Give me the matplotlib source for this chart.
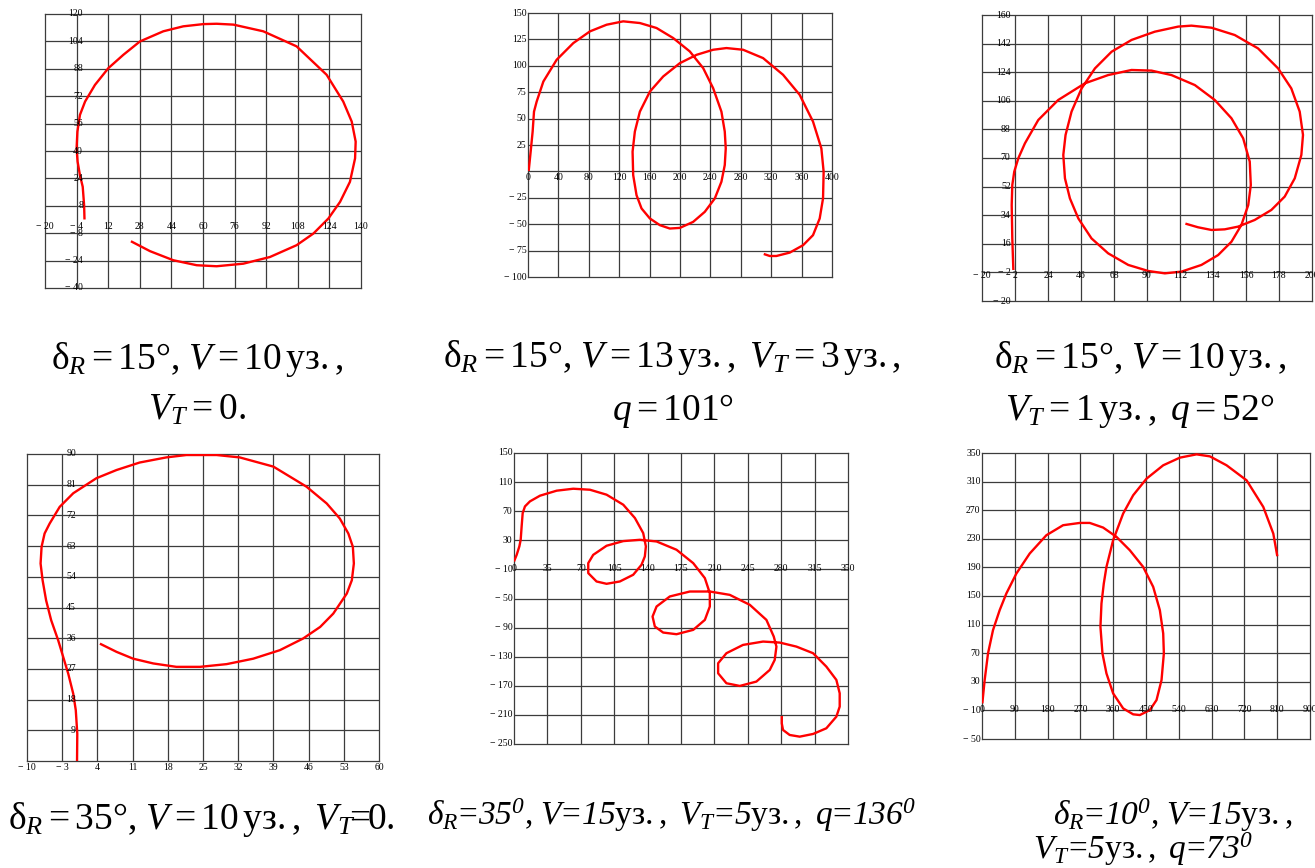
import numpy as np
import matplotlib
matplotlib.use("Agg")
import matplotlib.pyplot as plt

plt.rcParams['font.family'] = ['Liberation Serif', 'DejaVu Serif']
plt.rcParams['mathtext.fontset'] = 'custom'
plt.rcParams['mathtext.rm'] = 'Liberation Serif'
plt.rcParams['mathtext.it'] = 'Liberation Serif:italic'
plt.rcParams['mathtext.sf'] = 'Liberation Serif:italic'
plt.rcParams['mathtext.bf'] = 'Liberation Serif:bold'

# ---------------- data ----------------
# Panel 1: dR=15, V=10, VT=0
p1_x = [0, -0.2, -0.9, -2.3, -3.5, -4, -3.6, -2.3, 0.3, 5.3, 12.1, 19.7, 28.1, 39.9, 50, 60.2, 66.9,
        75.4, 90.5, 107.4, 122.6, 131, 135.3, 137.3, 137, 134.4, 129.4, 123.5, 115.9, 107.4, 93.9,
        80.4, 66.9, 56.8, 45, 33.2, 23.5]
p1_y = [0, 8.4, 19.1, 25.9, 33.8, 41.6, 51.3, 61.1, 68.9, 78.6, 88.4, 96.2, 104, 109.9, 112.8, 114.1,
        114.3, 113.8, 109.9, 101.1, 84.5, 68.9, 57.2, 45.5, 35.7, 22, 10.3, 0.6, -8.2, -15, -21.9,
        -25.8, -27.3, -26.7, -23.8, -18.5, -12.7]

# Panel 2: dR=15, V=13, VT=3, q=101
p2_x = [0.9, 3.5, 6.1, 7.9, 11.4, 20.2, 37.7, 59.6, 81.5, 103.4, 125.3, 147.2, 169.1, 191, 212.9,
        230.5, 243.6, 254.5, 258.9, 260.2, 258.9, 254.5, 245.8, 232.6, 217.3, 199.8, 186.6, 173.5,
        160.4, 149.4, 142.8, 138.4, 137.6, 140.6, 147.2, 160.4, 177.9, 199.8, 221.8, 243.6, 261.1,
        283, 309.3, 335.6, 357.5, 375, 386, 389, 388.2, 383.8, 375, 361.9, 344.4, 326.8, 318.1, 310.2]
p2_y = [0.3, 18.7, 37.7, 56.6, 66.1, 85.1, 105.7, 121.5, 132.6, 138.9, 142.1, 140.5, 135.8, 126.3,
        113.6, 97.8, 78.8, 56.6, 37.7, 21.8, 6, -9.8, -25.6, -38.3, -47.8, -53.5, -54.1, -50.9, -44.6,
        -35.1, -22.5, -3.5, 18.7, 37.7, 56.6, 75.6, 89.9, 102.5, 110.4, 115.2, 116.8, 115.2, 107.3,
        91.5, 72.5, 47.2, 21.8, -0.3, -25.6, -44.6, -60.4, -69.9, -76.9, -80.1, -80.1, -78.2]

# Panel 3: dR=15, V=10, VT=1, q=52
p3_x = [0.9, 0.2, -0.2, 0.2, 1.5, 4.2, 8.6, 17.5, 30.8, 48.6, 64.1, 79.7, 93, 106.3, 121.9, 135.2,
        146.3, 154.1, 158.5, 159.2, 157.5, 152.9, 146.3, 137.4, 126.3, 113, 101.9, 90.8, 77.5, 64.1,
        53, 44.2, 38.6, 35.3, 34.2, 35.7, 39.7, 46.4, 55.3, 66.4, 79.7, 95.2, 110.8, 119.6, 133,
        148.5, 164, 177.4, 186.2, 191.8, 194, 192.9, 188.5, 181.8, 172.9, 161.8, 150.7, 141.8, 133,
        124, 115.6]
p3_y = [-0.5, 19.4, 40.4, 53, 61.4, 69.8, 79.2, 93.9, 106.5, 117, 122.2, 125.4, 125, 122.2, 115.9,
        106.5, 95, 82.4, 67.7, 53, 40.4, 27.8, 17.3, 8.9, 2.7, -1.5, -2.6, -1.1, 2.7, 10, 19.4, 32,
        44.6, 57.2, 71.9, 84.5, 99.2, 113.8, 126.4, 136.9, 144.3, 149.5, 152.7, 153.3, 152, 147.4,
        139, 126.4, 113.8, 99.2, 84.5, 71.9, 57.2, 45.7, 37.3, 31, 26.8, 25.1, 24.7, 26.4, 28.7]

# Panel 4: dR=35, V=10, VT=0
p4_x = [-0.05, 0, -0.3, -0.8, -1.8, -2.8, -3.8, -5.2, -6.2, -6.9, -7.3, -7.1, -6.5, -5.5, -3.5, -0.8,
        3.8, 7.8, 12.4, 17.7, 21.7, 27.7, 32.3, 39, 45.6, 49.6, 52.2, 53.9, 54.8, 55, 54.6, 53.6,
        50.9, 48.3, 44.9, 40.3, 35, 29.7, 24.4, 19.7, 15.1, 11.1, 7.8, 4.5]
p4_y = [0, 8, 14.9, 19.7, 25.6, 30.5, 35.4, 41.3, 47.1, 53, 57.9, 62.8, 66.7, 69.6, 74.5, 78.5, 82.9,
        85.3, 87.5, 89, 89.7, 89.7, 89, 86.3, 80.4, 75.5, 71.1, 66.7, 62.8, 57.9, 53, 49.1, 43.2,
        39.3, 35.9, 32.5, 30, 28.4, 27.6, 27.6, 28.6, 30, 32, 34.4]

# Panel 5: dR=35, V=15, VT=5, q=136
p5_x = [0, 2.8, 5.6, 7, 8, 9.1, 11.5, 16.7, 27.2, 44.7, 62.1, 79.6, 97, 114.5, 126.7, 135.4, 138.2,
        137.1, 133.6, 124.9, 110.9, 97, 86.5, 77.8, 77.8, 83, 97, 114.5, 131.9, 149.4, 170.3, 187.8,
        200, 205.2, 205.2, 200, 187.8, 170.3, 156.3, 147.6, 145.2, 149.4, 163.3, 184.3, 205.2, 226.1,
        247.1, 264.5, 272.2, 275, 273.2, 268, 254, 236.6, 222.6, 213.9, 213.9, 222.6, 240, 261,
        278.5, 295.9, 313.4, 327.3, 337.8, 341.3, 341.3, 337.8, 327.3, 313.4, 299.4, 288.9, 281.9,
        280.6, 280.6]
p5_y = [0.9, 10, 21.6, 30.7, 49, 67.4, 76.6, 83.5, 91.3, 98.2, 100.9, 99.5, 92.7, 78.9, 60.6, 39.9,
        21.6, 7.8, -3.7, -17.4, -26.6, -29.8, -26.6, -15.1, -1.4, 10, 22.5, 28.9, 30.7, 28.4, 17,
        -1.4, -22, -42.7, -61, -79.4, -93.1, -99.1, -96.8, -88.5, -74.8, -61, -47.2, -40.4, -40.4,
        -45, -58.7, -79.4, -102.3, -116.1, -134.4, -148.2, -164.2, -170.2, -166.5, -152.8, -139,
        -125.2, -113.8, -109.2, -110.6, -116.1, -125.2, -143.6, -161.9, -180.3, -198.6, -212.4,
        -228.4, -236.2, -239.9, -237.6, -230.7, -221.6, -211.5]

# Panel 6: dR=10, V=15, VT=5, q=73
p6_x = [0.9, 7.3, 16.5, 30.2, 48.5, 66.8, 94.3, 130.9, 176.7, 222.5, 268.3, 295.7, 332.4, 369,
        405.6, 442.2, 469.7, 488, 497.2, 499, 492.6, 478.9, 460.6, 433.1, 414.8, 387.3, 359.8,
        341.5, 330.5, 325, 327.8, 334.2, 341.5, 359.8, 387.3, 414.8, 451.4, 497.2, 542.9, 588.7,
        625.3, 671.1, 726, 771.8, 799.3, 810.3]
p6_y = [-0.2, 32.4, 69.7, 102.3, 130.2, 153.5, 181.4, 209.4, 235, 249, 252.2, 252.2, 245.7, 232.7,
        214, 190.7, 162.8, 130.2, 97.6, 69.7, 32.4, 4.5, -9.5, -16.5, -15.5, -7.2, 13.8, 41.7,
        69.7, 106.9, 139.5, 167.5, 190.7, 228, 265.3, 290.9, 314.1, 332.8, 343.5, 348.1, 345.3,
        332.8, 311.8, 274.6, 237.3, 205.6]

# tick values
p1_xt = [-20, -4, 12, 28, 44, 60, 76, 92, 108, 124, 140]
p1_yt = [-40, -24, -8, 8, 24, 40, 56, 72, 88, 104, 120]
p2_xt = [0, 40, 80, 120, 160, 200, 240, 280, 320, 360, 400]
p2_yt = [-100, -75, -50, -25, 0, 25, 50, 75, 100, 125, 150]
p3_xt = [-20, 2, 24, 46, 68, 90, 112, 134, 156, 178, 200]
p3_yt = [-20, -2, 16, 34, 52, 70, 88, 106, 124, 142, 160]
p4_xt = [-10, -3, 4, 11, 18, 25, 32, 39, 46, 53, 60]
p4_yt = [0, 9, 18, 27, 36, 45, 54, 63, 72, 81, 90]
p5_xt = [0, 35, 70, 105, 140, 175, 210, 245, 280, 315, 350]
p5_yt = [-250, -210, -170, -130, -90, -50, -10, 30, 70, 110, 150]
p6_xt = [0, 90, 180, 270, 360, 450, 540, 630, 720, 810, 900]
p6_yt = [-50, -10, 30, 70, 110, 150, 190, 230, 270, 310, 350]

# ---------------- figure ----------------
W, H = 1315, 868
fig = plt.figure(figsize=(W / 100, H / 100), dpi=100)


def rect(x0, y0, x1, y1):
    return [x0 / W, 1 - y1 / H, (x1 - x0) / W, (y1 - y0) / H]


def fmt(v):
    return ("\u2212 %d" % abs(v)) if v < 0 else "%d" % v


def panel(r, xs, ys, xt, yt):
    ax = fig.add_axes(r)
    ax.set_xlim(xt[0], xt[-1])
    ax.set_ylim(yt[0], yt[-1])
    ax.set_xticks([])
    ax.set_yticks([])
    for v in xt[1:-1]:
        ax.axvline(v, color='#3c3c3c', lw=0.9, zorder=1)
    for v in yt[1:-1]:
        ax.axhline(v, color='#3c3c3c', lw=0.9, zorder=1)
    for s in ax.spines.values():
        s.set_color('#3c3c3c')
        s.set_linewidth(0.9)
    ax.plot(xs, ys, color='#ff0000', lw=1.7, zorder=3, solid_capstyle='butt',
            solid_joinstyle='round')
    y_ax = max(0, yt[0])
    x_ax = max(0, xt[0])
    for v in xt:
        ax.annotate(fmt(v), xy=(v, y_ax), xytext=(0, -1.5), textcoords='offset points',
                    ha='center', va='top', fontsize=7, annotation_clip=False, zorder=4)
    for v in yt:
        if v == 0 and y_ax == 0:
            continue
        ax.annotate(fmt(v), xy=(x_ax, v), xytext=(-1, 0), textcoords='offset points',
                    ha='right', va='center', fontsize=7, annotation_clip=False, zorder=4)
    return ax


panel(rect(45, 14, 361, 288), p1_x, p1_y, p1_xt, p1_yt)
panel(rect(528, 13, 832, 277), p2_x, p2_y, p2_xt, p2_yt)
panel(rect(982, 15, 1312, 301), p3_x, p3_y, p3_xt, p3_yt)
panel(rect(27, 454, 379, 761), p4_x, p4_y, p4_xt, p4_yt)
panel(rect(514, 453, 848, 744), p5_x, p5_y, p5_xt, p5_yt)
panel(rect(982, 453, 1310, 739), p6_x, p6_y, p6_xt, p6_yt)


def cap(x, y, s, size, ha='center'):
    fig.text(x / W, 1 - y / H, s, fontsize=size, ha=ha, va='baseline')


U = r"\mathrm{уз.,}"
D = r"\mathrm{°}"
big = 27
cap(197, 369, r"$\mathrm{\delta}_{R}=15" + D + r"\mathrm{,}\ V=10\," + U + r"$", big)
cap(197, 420, r"$V_{T}=0.$", big)
cap(672, 367, r"$\mathrm{\delta}_{R}=15" + D + r"\mathrm{,}\ V=13\," + U + r"\ V_{T}=3\," + U + r"$", big)
cap(673, 420, r"$q=101" + D + r"$", big)
cap(1140, 368, r"$\mathrm{\delta}_{R}=15" + D + r"\mathrm{,}\ V=10\," + U + r"$", big)
cap(1140, 420, r"$V_{T}=1\," + U + r"\ q=52" + D + r"$", big)
cap(8, 829, r"$\mathrm{\delta}_{R}=35" + D + r"\mathrm{,}\ V=10\," + U + r"\ V_{T}\!\!=\!\!0.$", big, ha='left')
sm = 24
E = r"\!=\!"
cap(427, 825, r"$\mathsf{\delta}_{\mathsf{R}}" + E + r"\mathsf{35}^{\mathsf{0}}\mathrm{,}\ \mathsf{V}" + E + r"\mathsf{15}" + U +
    r"\ \mathsf{V}_{\mathsf{T}}" + E + r"\mathsf{5}" + U + r"\ \mathsf{q}" + E + r"\mathsf{136}^{\mathsf{0}}$", sm, ha='left')
cap(1053, 825, r"$\mathsf{\delta}_{\mathsf{R}}" + E + r"\mathsf{10}^{\mathsf{0}}\mathrm{,}\ \mathsf{V}" + E + r"\mathsf{15}" + U + r"$", sm, ha='left')
cap(1033, 859, r"$\mathsf{V}_{\mathsf{T}}" + E + r"\mathsf{5}" + U + r"\ \mathsf{q}" + E + r"\mathsf{73}^{\mathsf{0}}$", sm, ha='left')

fig.savefig("out.png", dpi=100)
